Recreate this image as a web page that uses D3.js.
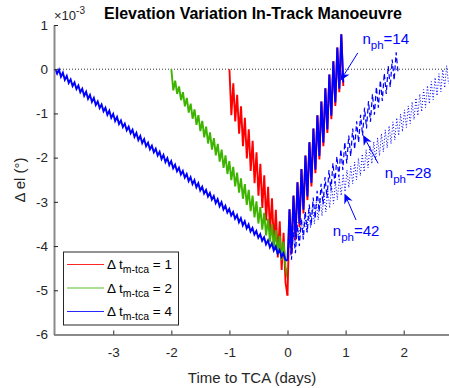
<!DOCTYPE html>
<html>
<head>
<meta charset="utf-8">
<script src="https://cdn.jsdelivr.net/npm/d3@7"></script>
<style>
  body { margin: 0; background: #fff; }
  svg { display: block; font-family: "Liberation Sans", Arial, Helvetica, sans-serif; }
</style>
</head>
<body>
<svg id="chart" width="449" height="388"></svg>
<script>
// Elevation change (x10^-3 deg) versus time to TCA (days).
// Each series lists the turning points of the orbital oscillation,
// sampled every half orbit from its start time.

const xTicks = [-3, -2, -1, 0, 1, 2];
const yTicks = [1, 0, -1, -2, -3, -4, -5, -6];
const legendValues = ["1", "2", "4"];            // Δt between manoeuvre and TCA (days)
const phasingLabels = ["14", "28", "42"];         // number of phasing orbits

// Δt = 1 day, before TCA
const redPreStart = -1.0, redPreStep = 0.0333;
const redPreY = [0.00,-1.04,-0.32,-1.18,-0.58,-1.46,-0.84,-1.74,-1.10,-2.02,
  -1.36,-2.30,-1.62,-2.58,-1.88,-2.86,-2.14,-3.14,-2.40,-3.42,
  -2.66,-3.70,-2.92,-3.98,-3.18,-4.26,-3.44,-4.54,-3.70,-4.82,-5.12];

// Δt = 2 days, before TCA
const greenPreStart = -2.0, greenPreStep = 0.0333;
const greenPreY = [0.00,-0.48,-0.26,-0.56,-0.39,-0.70,-0.52,-0.84,-0.65,-0.98,
  -0.78,-1.12,-0.91,-1.26,-1.04,-1.40,-1.17,-1.54,-1.30,-1.68,
  -1.43,-1.82,-1.56,-1.95,-1.69,-2.09,-1.82,-2.23,-1.95,-2.37,
  -2.08,-2.51,-2.21,-2.65,-2.34,-2.79,-2.47,-2.93,-2.60,-3.07,
  -2.73,-3.21,-2.86,-3.35,-2.99,-3.49,-3.12,-3.63,-3.25,-3.76,
  -3.38,-3.90,-3.51,-4.04,-3.64,-4.18,-3.77,-4.32,-3.90,-4.46,-4.72];

// Δt = 4 days, before TCA
const bluePreStart = -4.0, bluePreStep = 0.0333;
const bluePreY = [0.00,-0.10,-0.01,-0.17,-0.08,-0.24,-0.15,-0.31,-0.23,-0.38,
  -0.30,-0.45,-0.37,-0.52,-0.44,-0.60,-0.51,-0.67,-0.58,-0.74,
  -0.65,-0.81,-0.73,-0.88,-0.80,-0.95,-0.87,-1.03,-0.94,-1.10,
  -1.01,-1.17,-1.08,-1.24,-1.16,-1.31,-1.23,-1.38,-1.30,-1.45,
  -1.37,-1.53,-1.44,-1.60,-1.51,-1.67,-1.58,-1.74,-1.66,-1.81,
  -1.73,-1.88,-1.80,-1.95,-1.87,-2.03,-1.94,-2.10,-2.01,-2.17,
  -2.08,-2.24,-2.16,-2.31,-2.23,-2.38,-2.30,-2.45,-2.37,-2.53,
  -2.44,-2.60,-2.51,-2.67,-2.58,-2.74,-2.66,-2.81,-2.73,-2.88,
  -2.80,-2.95,-2.87,-3.03,-2.94,-3.10,-3.01,-3.17,-3.09,-3.24,
  -3.16,-3.31,-3.23,-3.38,-3.30,-3.46,-3.37,-3.53,-3.44,-3.60,
  -3.51,-3.67,-3.59,-3.74,-3.66,-3.81,-3.73,-3.88,-3.80,-3.96,
  -3.87,-4.03,-3.94,-4.10,-4.01,-4.17,-4.09,-4.24,-4.16,-4.31,-4.33];

// After TCA, n_ph = 14 (Δt = 1 and Δt = 4)
const n14Start = 0.0, n14Step = 0.0343;
const redN14Y = [-5.12,-3.17,-4.18,-2.86,-3.87,-2.56,-3.57,-2.26,-3.26,-1.95,
  -2.96,-1.65,-2.65,-1.34,-2.35,-1.04,-2.04,-0.73,-1.74,-0.43,
  -1.44,-0.12,-1.13,0.18,-0.83,0.49,-0.52,0.79,-0.38];
const blueN14Y = [-4.33,-3.17,-4.10,-2.86,-3.79,-2.56,-3.49,-2.26,-3.18,-1.95,
  -2.88,-1.65,-2.57,-1.34,-2.27,-1.04,-1.96,-0.73,-1.66,-0.43,
  -1.36,-0.12,-1.05,0.18,-0.75,0.49,-0.44,0.79,-0.30];

// After TCA, n_ph = 28
const n28Start = 0.0, n28Step = 0.034;
const blueN28Y = [-4.30,-3.84,-4.31,-3.69,-4.16,-3.53,-4.00,-3.37,-3.85,-3.22,
  -3.69,-3.06,-3.53,-2.90,-3.38,-2.75,-3.22,-2.59,-3.06,-2.44,
  -2.91,-2.28,-2.75,-2.12,-2.59,-1.97,-2.44,-1.81,-2.28,-1.65,
  -2.13,-1.50,-1.97,-1.34,-1.81,-1.18,-1.66,-1.03,-1.50,-0.87,
  -1.34,-0.72,-1.19,-0.56,-1.03,-0.40,-0.87,-0.25,-0.72,-0.09,
  -0.56,0.07,-0.41,0.22,-0.25,0.38,-0.09];

// After TCA, n_ph = 42
const n42Start = 0.0, n42Step = 0.033;
const blueN42Y = [-4.30,-3.64,-4.04,-3.55,-3.95,-3.46,-3.86,-3.36,-3.77,-3.27,
  -3.68,-3.18,-3.59,-3.09,-3.50,-3.00,-3.41,-2.91,-3.32,-2.82,
  -3.23,-2.73,-3.14,-2.64,-3.04,-2.55,-2.95,-2.46,-2.86,-2.37,
  -2.77,-2.28,-2.68,-2.19,-2.59,-2.10,-2.50,-2.01,-2.41,-1.92,
  -2.32,-1.82,-2.23,-1.73,-2.14,-1.64,-2.05,-1.55,-1.96,-1.46,
  -1.87,-1.37,-1.78,-1.28,-1.69,-1.19,-1.60,-1.10,-1.50,-1.01,
  -1.41,-0.92,-1.32,-0.83,-1.23,-0.74,-1.14,-0.65,-1.05,-0.56,
  -0.96,-0.46,-0.87,-0.37,-0.78,-0.28,-0.69,-0.19,-0.60,-0.10,
  -0.51,-0.01,-0.42,0.08,-0.33];

// Annotation arrows: [tailX, tailY, tipX, tipY] in data units, and text anchors
const arrowN14 = [1.21, 0.37, 0.91, -0.26];
const arrowN28 = [1.56, -2.13, 1.30, -1.49];
const arrowN42 = [1.18, -3.41, 0.98, -2.81];
const textN14 = [1.29, 0.58];
const textN28 = [1.675, -2.46];
const textN42 = [0.78, -3.78];

const RED = "#ff0000", GREEN = "#3cb400", BLUE = "#0000ff";
const AXIS_GREY = "#8a8a8a", TEXT_DARK = "#262626";

const svg = d3.select("#chart");
const x = d3.scaleLinear().domain([-4.02, 2.78]).range([54, 449]);
const y = d3.scaleLinear().domain([-6, 1]).range([334.5, 25]);

const fmt = d => String(d).replace("\u2212", "-");

// dotted zero reference
svg.append("line")
  .attr("x1", x(-4.02)).attr("x2", x(2.78))
  .attr("y1", y(0)).attr("y2", y(0))
  .attr("stroke", "#333").attr("stroke-width", 1)
  .attr("stroke-dasharray", "1,2");

const line = d3.line().x(d => x(d[0])).y(d => y(d[1]));

const series = [
  { t0: redPreStart,   dt: redPreStep,   v: redPreY,   color: RED,   w: 1.9, dash: null },
  { t0: greenPreStart, dt: greenPreStep, v: greenPreY, color: GREEN, w: 1.9, dash: null },
  { t0: bluePreStart,  dt: bluePreStep,  v: bluePreY,  color: BLUE,  w: 1.9, dash: null },
  { t0: n14Start, dt: n14Step, v: redN14Y,  color: RED,  w: 1.9, dash: null },
  { t0: n14Start, dt: n14Step, v: blueN14Y, color: BLUE, w: 1.9, dash: null },
  { t0: n28Start, dt: n28Step, v: blueN28Y, color: BLUE, w: 1.2, dash: "5,3" },
  { t0: n42Start, dt: n42Step, v: blueN42Y, color: BLUE, w: 1,   dash: "1,2" }
];

series.forEach(s => {
  const pts = s.v.map((v, i) => [s.t0 + i * s.dt, v]);
  svg.append("path")
    .attr("d", line(pts))
    .attr("fill", "none")
    .attr("stroke", s.color)
    .attr("stroke-width", s.w)
    .attr("stroke-linejoin", "miter")
    .attr("stroke-dasharray", s.dash);
});

// axes
const yAxis = svg.append("g")
  .attr("transform", "translate(54,0)")
  .call(d3.axisLeft(y).tickValues(yTicks).tickSize(-4).tickSizeOuter(0).tickPadding(6).tickFormat(fmt));
const xAxis = svg.append("g")
  .attr("transform", "translate(0,334.5)")
  .call(d3.axisBottom(x).tickValues(xTicks).tickSize(-4).tickSizeOuter(0).tickPadding(12.5).tickFormat(fmt));

[yAxis, xAxis].forEach(g => {
  g.select(".domain").attr("stroke", AXIS_GREY).attr("stroke-width", 2);
  g.selectAll(".tick line").attr("stroke", TEXT_DARK).attr("stroke-width", 1);
  g.selectAll(".tick text").attr("fill", TEXT_DARK).attr("font-size", 13.5)
    .attr("font-family", "Liberation Sans, Arial, sans-serif");
});

// title and axis labels
svg.append("text")
  .attr("x", 253).attr("y", 19)
  .attr("text-anchor", "middle")
  .attr("font-size", 16).attr("font-weight", "bold").attr("fill", "#000")
  .text("Elevation Variation In-Track Manoeuvre");

const expo = svg.append("text").attr("x", 54).attr("y", 20).attr("fill", TEXT_DARK).attr("font-size", 13);
expo.append("tspan").text("\u00d710");
expo.append("tspan").attr("font-size", 10).attr("dy", -6).text("-3");

svg.append("text")
  .attr("transform", "translate(25,180) rotate(-90)")
  .attr("text-anchor", "middle")
  .attr("font-size", 15).attr("fill", TEXT_DARK)
  .text("\u0394 el (\u00b0)");

svg.append("text")
  .attr("x", 252).attr("y", 383)
  .attr("text-anchor", "middle")
  .attr("font-size", 15).attr("fill", TEXT_DARK)
  .text("Time to TCA (days)");

// legend
const legend = svg.append("g");
legend.append("rect")
  .attr("x", 63.5).attr("y", 252).attr("width", 115).attr("height", 73)
  .attr("fill", "#fff").attr("stroke", TEXT_DARK).attr("stroke-width", 1);
const legendColors = [RED, GREEN, BLUE];
legendValues.forEach((val, i) => {
  const cy = 264.5 + i * 23.5;
  legend.append("line")
    .attr("x1", 67).attr("x2", 104).attr("y1", cy).attr("y2", cy)
    .attr("stroke", legendColors[i]).attr("stroke-width", 1).attr("stroke-opacity", 0.85);
  const t = legend.append("text").attr("x", 107).attr("y", cy + 4.5)
    .attr("font-size", 13.5).attr("fill", "#000");
  t.append("tspan").text("\u0394 t");
  t.append("tspan").attr("font-size", 10.5).attr("dy", 4).text("m-tca");
  t.append("tspan").attr("dy", -4).text(" = " + val);
});

// phasing-orbit annotations
function arrow(a) {
  const x1 = x(a[0]), y1 = y(a[1]), x2 = x(a[2]), y2 = y(a[3]);
  const ang = Math.atan2(y2 - y1, x2 - x1);
  const L = 10, W = 4.5, notch = 7;
  const back = (d, off) => [x2 - d * Math.cos(ang) - off * Math.sin(ang),
                            y2 - d * Math.sin(ang) + off * Math.cos(ang)];
  svg.append("line")
    .attr("x1", x1).attr("y1", y1)
    .attr("x2", back(notch, 0)[0]).attr("y2", back(notch, 0)[1])
    .attr("stroke", BLUE).attr("stroke-width", 1);
  const pts = [[x2, y2], back(L, W), back(notch, 0), back(L, -W)];
  svg.append("polygon").attr("points", pts.map(p => p.join(",")).join(" ")).attr("fill", BLUE);
}
function nLabel(pos, val) {
  const t = svg.append("text").attr("x", x(pos[0])).attr("y", y(pos[1]))
    .attr("font-size", 15).attr("fill", BLUE);
  t.append("tspan").text("n");
  t.append("tspan").attr("font-size", 11.5).attr("dy", 5).text("ph");
  t.append("tspan").attr("dy", -5).text("=" + val);
}
arrow(arrowN14); arrow(arrowN28); arrow(arrowN42);
nLabel(textN14, phasingLabels[0]);
nLabel(textN28, phasingLabels[1]);
nLabel(textN42, phasingLabels[2]);
</script>
</body>
</html>
